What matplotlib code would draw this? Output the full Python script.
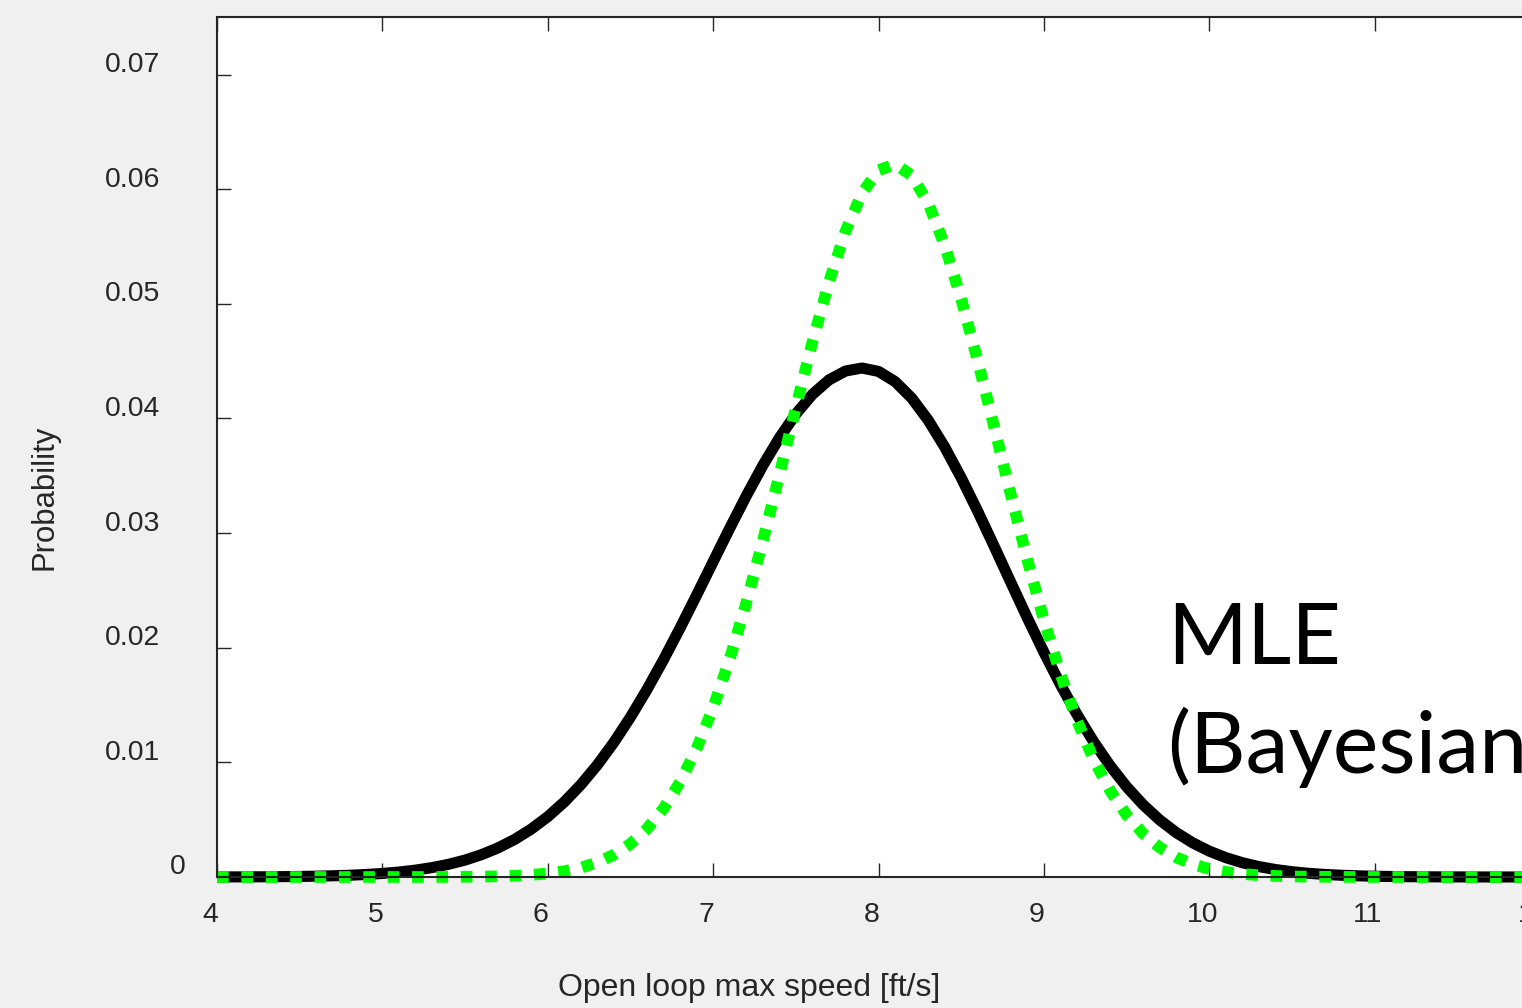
import matplotlib
matplotlib.use("Agg")
import matplotlib.pyplot as plt
from matplotlib.transforms import ScaledTranslation

# Open loop max speed grid [ft/s]
speed = [round(4.0 + 0.1 * i, 1) for i in range(81)]

# MLE probability (solid black)
prob_mle = [
    0.000006, 0.000009, 0.000014, 0.000021, 0.000032, 0.000048, 0.000071, 0.000105, 0.000152, 0.000218,
    0.000309, 0.000433, 0.000598, 0.000819, 0.001107, 0.001478, 0.001951, 0.002545, 0.003281, 0.004180,
    0.005262, 0.006549, 0.008053, 0.009786, 0.011753, 0.013949, 0.016361, 0.018964, 0.021725, 0.024595,
    0.027516, 0.030423, 0.033242, 0.035895, 0.038304, 0.040396, 0.042101, 0.043363, 0.044138, 0.044400,
    0.044101, 0.043215, 0.041779, 0.039848, 0.037496, 0.034809, 0.031881, 0.028806, 0.025678, 0.022583,
    0.019594, 0.016773, 0.014163, 0.011801, 0.009700, 0.007866, 0.006293, 0.004968, 0.003869, 0.002972,
    0.002253, 0.001684, 0.001243, 0.000904, 0.000649, 0.000460, 0.000321, 0.000222, 0.000151, 0.000101,
    0.000067, 0.000044, 0.000028, 0.000018, 0.000011, 0.000007, 0.000004, 0.000003, 0.000002, 0.000001,
    0.000001,
]

# Bayesian probability (dotted green)
prob_bayes = [
    0.0, 0.0, 0.0, 0.0, 0.0, 0.0, 0.0, 0.0, 0.0, 0.0,
    0.000001, 0.000001, 0.000002, 0.000004, 0.000009, 0.000018, 0.000033, 0.000060, 0.000106, 0.000183,
    0.000308, 0.000507, 0.000812, 0.001272, 0.001944, 0.002897, 0.004215, 0.005981, 0.008288, 0.011203,
    0.014781, 0.019029, 0.023908, 0.029315, 0.035079, 0.040960, 0.046677, 0.051905, 0.056329, 0.059655,
    0.061654, 0.062183, 0.061204, 0.058788, 0.055104, 0.050407, 0.044995, 0.039197, 0.033326, 0.027649,
    0.022384, 0.017686, 0.013637, 0.010261, 0.007534, 0.005398, 0.003775, 0.002576, 0.001716, 0.001115,
    0.000708, 0.000438, 0.000265, 0.000156, 0.000090, 0.000050, 0.000028, 0.000015, 0.000008, 0.000004,
    0.000002, 0.000001, 0.0, 0.0, 0.0, 0.0, 0.0, 0.0, 0.0, 0.0,
    0.0,
]

x_ticks = [4, 5, 6, 7, 8, 9, 10, 11, 12]
y_ticks = [0, 0.01, 0.02, 0.03, 0.04, 0.05, 0.06, 0.07]
y_tick_labels = ["0", "0.01", "0.02", "0.03", "0.04", "0.05", "0.06", "0.07"]

plt.rcParams["font.family"] = ["Liberation Sans", "DejaVu Sans"]
ink = "#262626"

W, H, DPI = 1522, 1008, 100
fig = plt.figure(figsize=(W / DPI, H / DPI), dpi=DPI, facecolor="#f0f0f0")
ax = fig.add_axes([217 / W, (H - 877) / H, 1323.2 / W, 860 / H])
ax.set_facecolor("white")

ax.plot(speed, prob_mle, color="black", lw=8.0, solid_capstyle="butt",
        solid_joinstyle="round", clip_on=False)
ax.plot(speed, prob_bayes, color="#00ff00", lw=8.4,
        linestyle=(0, (1.0, 1.09)), dash_capstyle="butt", clip_on=False)

ax.set_xlim(4, 12)
ax.set_ylim(0, 0.07502)
ax.set_xticks(x_ticks)
ax.set_xticklabels([str(v) for v in x_ticks])
ax.set_yticks(y_ticks)
ax.set_yticklabels(y_tick_labels)

ax.tick_params(direction="in", length=10, width=1.0, color=ink,
               top=True, right=True, labelsize=20.4, labelcolor=ink)
ax.tick_params(axis="y", pad=41)
ax.tick_params(axis="x", pad=18)
for s in ax.spines.values():
    s.set_color(ink)
    s.set_linewidth(1.5)

for lab in ax.get_yticklabels():
    dx = 26 if lab.get_text() == "0" else 0
    lab.set_transform(lab.get_transform()
                      + ScaledTranslation(dx / DPI, 12.5 / DPI, fig.dpi_scale_trans))
for lab in ax.get_xticklabels():
    lab.set_transform(lab.get_transform() + ScaledTranslation(-7 / DPI, 0, fig.dpi_scale_trans))

fig.text(749 / W, 1 - 988 / H, "Open loop max speed [ft/s]", ha="center", va="center",
         fontsize=23, color=ink)
fig.text(45 / W, 1 - 497 / H, "Probability", ha="center", va="center",
         rotation=90, fontsize=22.4, color=ink)

# Two-line annotation; the baseline anchor sits on the second line
ax.text(9.744, 0.009075, "MLE\n(Bayesian)", ha="left", va="baseline",
        fontsize=62, family="Lato", color="black", linespacing=1.42, clip_on=False)

fig.savefig("out.png", dpi=DPI, facecolor=fig.get_facecolor())
